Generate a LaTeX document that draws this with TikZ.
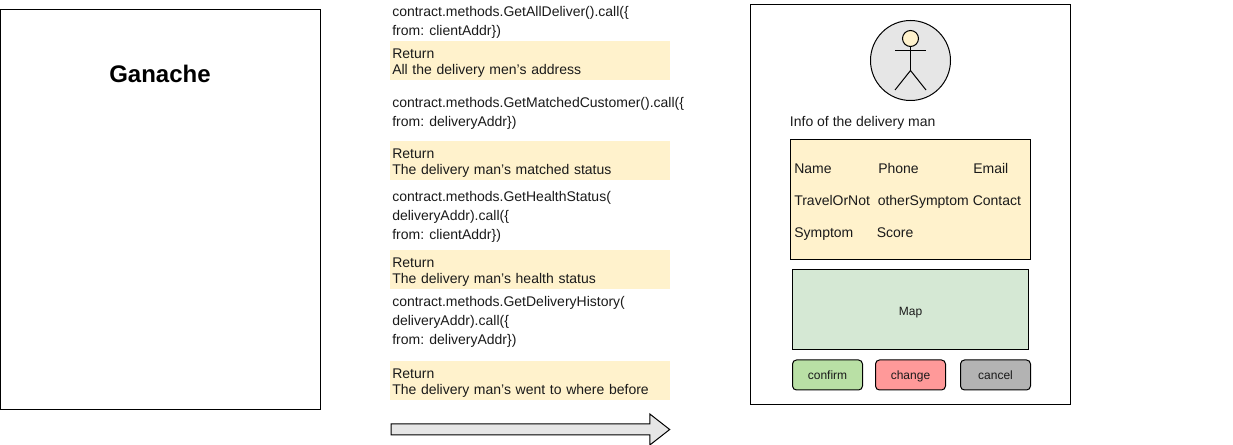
\documentclass[tikz,border=0pt]{standalone}
\usepackage{fontspec}
\setmainfont{Liberation Sans}
\usetikzlibrary{shapes,arrows}

\definecolor{returnyellow}{HTML}{FFF2CC}
\definecolor{mapgreen}{HTML}{D5E8D4}
\definecolor{confirmgreen}{HTML}{B9E0A5}
\definecolor{changered}{HTML}{FF9999}
\definecolor{cancelgrey}{HTML}{B3B3B3}
\definecolor{actorgrey}{HTML}{E6E6E6}
\definecolor{textgrey}{HTML}{1A1A1A}

\tikzset{
  frame/.style = {draw, line width=0.75pt, anchor=north west, inner sep=0},
  calltext/.style = {anchor=west, align=left, inner sep=0, text=textgrey,
    font=\fontsize{10.5}{14.25}\selectfont},
  returnbox/.style = {fill=returnyellow, anchor=north west, align=left, inner xsep=1.5pt, inner ysep=0,
    text width=207pt, minimum height=29.25pt, text=textgrey, font=\fontsize{10.5}{12}\selectfont,
    execute at begin node={\rule{0pt}{11pt}}},
  infotext/.style = {anchor=base west, inner sep=0, text=textgrey, font=\fontsize{10.5}{12}\selectfont},
  button/.style = {draw, rounded corners=3pt, line width=0.75pt, anchor=north west, inner sep=0,
    minimum width=52.5pt, minimum height=22.5pt, text height=6.5pt, text depth=0pt,
    text=textgrey, font=\fontsize{9}{11}\selectfont},
  stick/.style = {line width=0.75pt}
}

\begin{document}
\begin{tikzpicture}[x=0.75pt,y=-0.75pt]
\useasboundingbox (0,0) rectangle (1233,445);

% chain side
\node [frame, minimum width=240pt, minimum height=300pt] (ganache) at (0,9.5) {};
\node [font=\fontsize{18}{22}\selectfont\bfseries, inner sep=0] (ganachetitle) at (160,74) {Ganache};

% calls and returns
\node [calltext] (call1) at (392,22.5) {contract.methods.GetAllDeliver().call(\{\\from: clientAddr\})};
\node [returnbox] (return1) at (390,41) {Return\\All the delivery men's address};

\node [calltext] (call2) at (392,113) {contract.methods.GetMatchedCustomer().call(\{\\from: deliveryAddr\})};
\node [returnbox] (return2) at (390,140.5) {Return\\The delivery man's matched status};

\node [calltext] (call3) at (392,217) {contract.methods.GetHealthStatus(\\deliveryAddr).call(\{\\from: clientAddr\})};
\node [returnbox] (return3) at (390,249.5) {Return\\The delivery man's health status};

\node [calltext] (call4) at (392,322) {contract.methods.GetDeliveryHistory(\\deliveryAddr).call(\{\\from: deliveryAddr\})};
\node [returnbox] (return4) at (390,360.5) {Return\\The delivery man's went to where before};

% time arrow
\node [draw, fill=actorgrey, line width=0.75pt, shape=single arrow, anchor=west, inner sep=3.75pt,
  minimum height=209pt, minimum width=22.5pt, single arrow head extend=7.5pt, single arrow tip angle=76,
  single arrow head indent=0pt] (timearrow) at (390.5,429.5) {};

% delivery man page
\node [frame, minimum width=240pt, minimum height=300pt] (page) at (750,4.5) {};

% actor
\node [draw, circle, fill=actorgrey, line width=0.75pt, minimum size=60pt, inner sep=0] (avatar) at (910.5,60.5) {};
\node [draw, circle, fill=returnyellow, line width=0.75pt, minimum size=12pt, inner sep=0] (head) at (910.5,38.5) {};
\coordinate (armleft) at (895,50.5);
\coordinate (armright) at (926,50.5);
\coordinate (hip) at (910.5,70.5);
\coordinate (footleft) at (895,90);
\coordinate (footright) at (926,90);
\draw [stick] (head) -- (hip);
\draw [stick] (armleft) -- (armright);
\draw [stick] (footleft) -- (hip) -- (footright);

\node [infotext] (infotitle) at (789.7,126.7) {Info of the delivery man};

% info of the delivery man
\node [frame, fill=returnyellow, minimum width=180pt, minimum height=90pt] (infobox) at (790,139.5) {};
\node [infotext] (name) at (794,173.7) {Name};
\node [infotext] (phone) at (878,173.7) {Phone};
\node [infotext] (email) at (973,173.7) {Email};
\node [infotext] (travel) at (794,205.7) {TravelOrNot};
\node [infotext] (other) at (877.5,205.7) {otherSymptom};
\node [infotext] (contact) at (972.5,205.7) {Contact};
\node [infotext] (symptom) at (794,237.7) {Symptom};
\node [infotext] (score) at (876.5,237.7) {Score};

% map and buttons
\node [frame, fill=mapgreen, minimum width=177pt, minimum height=60pt, text height=8pt, text depth=0pt,
  text=textgrey, font=\fontsize{9}{11}\selectfont] (map) at (792,269.5) {Map};
\node [button, fill=confirmgreen] (confirm) at (792,359.5) {confirm};
\node [button, fill=changered] (change) at (875,359.5) {change};
\node [button, fill=cancelgrey] (cancel) at (960,359.5) {cancel};
\end{tikzpicture}
\end{document}
